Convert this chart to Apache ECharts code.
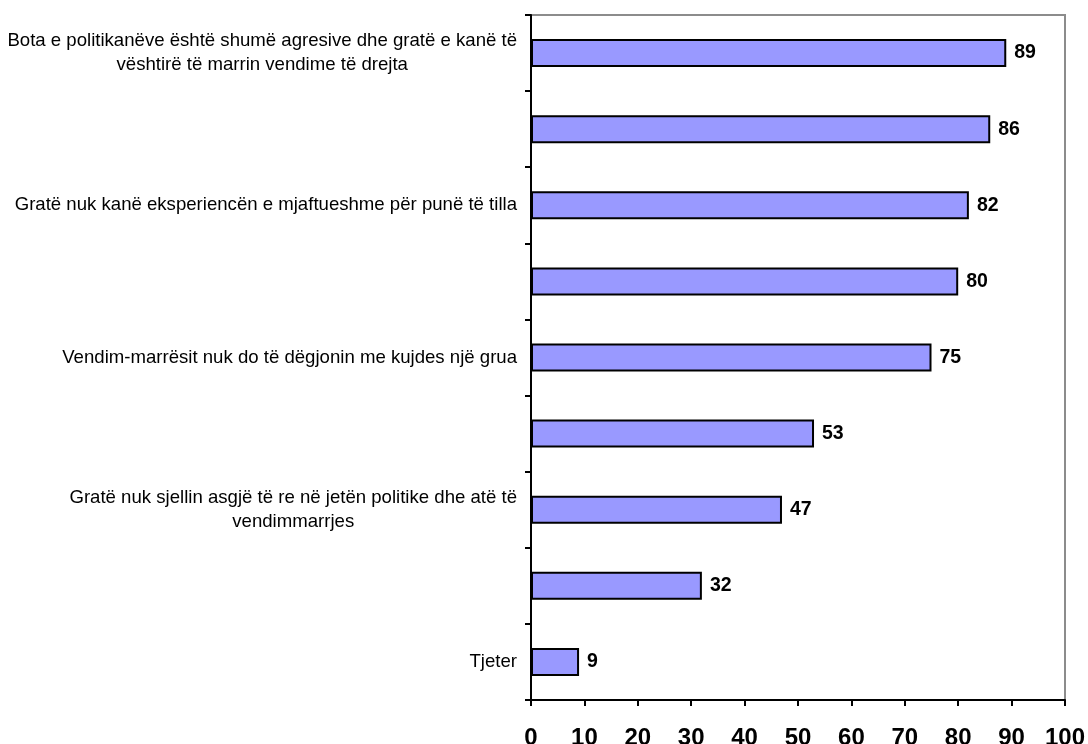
<!DOCTYPE html>
<html>
<head>
<meta charset="utf-8">
<script src="https://cdn.jsdelivr.net/npm/echarts@6/dist/echarts.min.js"></script>
<style>
html,body{margin:0;padding:0;background:#fff;}
#chart{width:1088px;height:744px;}
</style>
</head>
<body>
<div id="chart"></div>
<script>
// Categories (top to bottom); empty ones were not labelled in the original
var categories = [
  "Bota e politikanëve është shumë agresive dhe gratë e kanë të\nvështirë të marrin vendime të drejta",
  "",
  "Gratë nuk kanë eksperiencën e mjaftueshme për punë të tilla",
  "",
  "Vendim-marrësit nuk do të dëgjonin me kujdes një grua",
  "",
  "Gratë nuk sjellin asgjë të re në jetën politike dhe atë të\nvendimmarrjes",
  "",
  "Tjeter"
];
var values = [89, 86, 82, 80, 75, 53, 47, 32, 9];
var xTicks = [0, 10, 20, 30, 40, 50, 60, 70, 80, 90, 100];

var FONT = "'Liberation Sans', Arial, sans-serif";
var chart = echarts.init(document.getElementById('chart'), null, {renderer: 'canvas'});
chart.setOption({
  animation: false,
  backgroundColor: '#fff',
  grid: {
    left: 531, right: 23, top: 15, bottom: 44,
    outerBoundsMode: 'none',
    containLabel: false,
    show: true, borderColor: '#8c8c8c', borderWidth: 2, backgroundColor: 'transparent'
  },
  xAxis: {
    type: 'value',
    min: xTicks[0], max: xTicks[xTicks.length - 1], interval: 10,
    splitLine: {show: false},
    axisLine: {show: true, lineStyle: {color: '#000', width: 2}},
    axisTick: {show: true, length: 6, lineStyle: {color: '#000', width: 2}},
    axisLabel: {
      color: '#000', fontSize: 24, fontWeight: 'bold', fontFamily: FONT, margin: 26
    }
  },
  yAxis: {
    type: 'category',
    inverse: true,
    data: categories,
    axisLine: {show: true, lineStyle: {color: '#000', width: 2}},
    axisTick: {show: true, length: 6, interval: 0, lineStyle: {color: '#000', width: 2}},
    axisLabel: {
      interval: 0,
      margin: 14,
      align: 'right',
      formatter: function (v) {
        if (!v) return '';
        return v.split('\n').map(function (s) { return '{c|' + s + '}'; }).join('\n');
      },
      rich: {
        c: {align: 'center', fontSize: 18.6, lineHeight: 24, color: '#000', fontFamily: FONT}
      }
    }
  },
  series: [{
    type: 'bar',
    data: values,
    barWidth: 28,
    itemStyle: {color: '#9999ff', borderColor: '#000', borderWidth: 2},
    label: {
      show: true, position: 'right', distance: 8,
      color: '#000', fontSize: 19.5, fontWeight: 'bold', fontFamily: FONT
    }
  }]
});
</script>
</body>
</html>
